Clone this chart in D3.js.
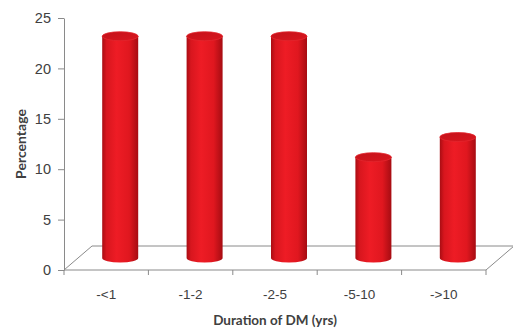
<!DOCTYPE html>
<html>
<head>
<meta charset="utf-8">
<script src="https://cdn.jsdelivr.net/npm/d3@7/dist/d3.min.js"></script>
<style>
  html, body { margin: 0; padding: 0; background: #fff; }
  svg { display: block; font-family: Lato, "Open Sans", sans-serif; }
</style>
</head>
<body>
<svg id="chart" width="513" height="329"></svg>
<script>
// Share of patients by duration of diabetes
const categories = ["-<1", "-1-2", "-2-5", "-5-10", "->10"];
const percentages = [22, 22, 22, 10, 12];
const yTicks = [0, 5, 10, 15, 20, 25];

const svg = d3.select("#chart");

// Front plane of the plot and the depth offset of the 3D floor
const plotLeft = 64, plotRight = 486, plotBottom = 270, plotTop = 18;
const depthX = 28, depthY = -24;

const x = d3.scaleBand().domain(categories).range([plotLeft, plotRight]);
const y = d3.scaleLinear().domain([0, 25]).range([plotBottom, plotTop]);

const grey = "#8a8a8a";
const textCol = "#404040";

// Gradients for the cylinder bodies and caps
const defs = svg.append("defs");
const body = defs.append("linearGradient").attr("id", "cyl").attr("x1", 0).attr("x2", 1).attr("y1", 0).attr("y2", 0);
[["0%", "#a90d13"], ["12%", "#d8161e"], ["40%", "#ee1c25"], ["75%", "#e0171f"], ["100%", "#a60c12"]]
  .forEach(([o, c]) => body.append("stop").attr("offset", o).attr("stop-color", c));
const cap = defs.append("linearGradient").attr("id", "cap").attr("x1", 0).attr("x2", 1).attr("y1", 0).attr("y2", 1);
[["0%", "#c4121a"], ["100%", "#d9161e"]]
  .forEach(([o, c]) => cap.append("stop").attr("offset", o).attr("stop-color", c));

// Floor parallelogram
svg.append("path")
  .attr("d", `M${plotLeft},${plotBottom} L${plotLeft + depthX},${plotBottom + depthY} L${plotRight + depthX},${plotBottom + depthY} L${plotRight},${plotBottom} Z`)
  .attr("fill", "none").attr("stroke", grey).attr("stroke-width", 1);

// Category boundary ticks below the front edge
svg.append("g").selectAll("line")
  .data(categories.map(c => x(c)).concat([plotRight]))
  .join("line")
  .attr("x1", d => d).attr("x2", d => d)
  .attr("y1", plotBottom).attr("y2", plotBottom + 5)
  .attr("stroke", grey);

// Y axis
const yAxis = svg.append("g")
  .attr("transform", `translate(${plotLeft},0)`)
  .call(d3.axisLeft(y).tickValues(yTicks).tickSize(6).tickSizeOuter(0).tickPadding(7));
yAxis.select(".domain").attr("stroke", grey);
yAxis.selectAll(".tick line").attr("stroke", grey);
yAxis.selectAll(".tick text").attr("fill", textCol).style("font-size", "14.5px");

// Category labels
const xAxis = svg.append("g")
  .attr("transform", `translate(0,${plotBottom})`)
  .call(d3.axisBottom(x).tickSize(0).tickPadding(19));
xAxis.select(".domain").remove();
xAxis.selectAll(".tick text").attr("fill", textCol).style("font-size", "13.5px");

// Cylinders, standing half-way into the floor depth
const bw = 36, rx = bw / 2, ry = 4.5;
const bars = svg.append("g").selectAll("g")
  .data(categories.map((c, i) => ({ c, v: percentages[i] })))
  .join("g");

bars.append("path")
  .attr("d", d => {
    const cx = x(d.c) + x.bandwidth() / 2 + depthX / 2;
    const yb = y(0) + depthY / 2, yt = y(d.v) + depthY / 2;
    return `M${cx - rx},${yt} L${cx - rx},${yb} A${rx},${ry} 0 0 0 ${cx + rx},${yb} L${cx + rx},${yt} Z`;
  })
  .attr("fill", "url(#cyl)");

bars.append("ellipse")
  .attr("cx", d => x(d.c) + x.bandwidth() / 2 + depthX / 2)
  .attr("cy", d => y(d.v) + depthY / 2)
  .attr("rx", rx).attr("ry", ry)
  .attr("fill", "url(#cap)")
  .attr("stroke", "#e3262d").attr("stroke-width", 0.8);

// Axis titles
svg.append("text")
  .attr("x", (plotLeft + plotRight) / 2).attr("y", 325)
  .attr("text-anchor", "middle")
  .attr("fill", textCol)
  .style("font-size", "13.5px").style("font-weight", "bold")
  .text("Duration of DM (yrs)");

svg.append("text")
  .attr("transform", "translate(26,144) rotate(-90)")
  .attr("text-anchor", "middle")
  .attr("fill", textCol)
  .style("font-size", "14px").style("font-weight", "bold")
  .text("Percentage");
</script>
</body>
</html>
